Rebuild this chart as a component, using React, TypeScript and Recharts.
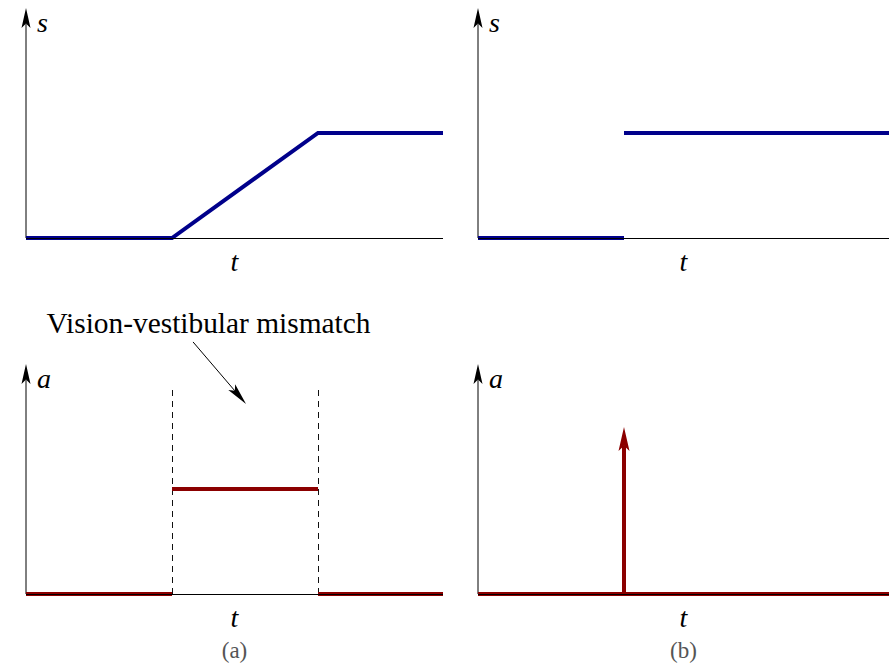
import React from 'react';
import { LineChart, Line, XAxis, YAxis, ReferenceLine } from 'recharts';

// ---- data ----
const tMaxLeft = 2.856;
const tMaxRight = 2.815;
const yMax = 2.19;

const rampData = [
  { t: 0, s: 0 },
  { t: 1, s: 0 },
  { t: 2, s: 1 },
  { t: tMaxLeft, s: 1 },
];
const stepData = [
  { t: 0, before: 0 },
  { t: 1, before: 0, after: 1 },
  { t: tMaxRight, after: 1 },
];
const accelPulseData = [
  { t: 0, a1: 0 },
  { t: 1, a1: 0, a2: 1 },
  { t: 2, a2: 1, a3: 0 },
  { t: tMaxLeft, a3: 0 },
];
const accelImpulseData = [
  { t: 0, a: 0 },
  { t: tMaxRight, a: 0 },
];
const impulseT = 1;
const impulseHeight = 1.59;
const mismatchWindow = [1, 2];
const dashTop = 1.99;
const annotationText = 'Vision-vestibular mismatch';
const annotationFrom = { t: 1.144, a: 2.4 };
const annotationTo = { t: 1.507, a: 1.81 };
const panelLabels = ['(a)', '(b)'];

const BLUE = '#00008B';
const RED = '#8B0000';
const AXIS = '#000';

const makeArrow =
  (color: string, width: number, headLen: number, headHalf: number) =>
  (props: any) => {
    const { x1, y1, x2, y2 } = props;
    const dx = x2 - x1;
    const dy = y2 - y1;
    const len = Math.hypot(dx, dy) || 1;
    const ux = dx / len;
    const uy = dy / len;
    const px = -uy;
    const py = ux;
    const bx = x2 - ux * headLen;
    const by = y2 - uy * headLen;
    const nx = x2 - ux * headLen * 0.78;
    const ny = y2 - uy * headLen * 0.78;
    const pts = `${x2},${y2} ${bx + px * headHalf},${by + py * headHalf} ${nx},${ny} ${bx - px * headHalf},${by - py * headHalf}`;
    return (
      <g>
        <line x1={x1} y1={y1} x2={nx} y2={ny} stroke={color} strokeWidth={width} />
        <polygon points={pts} fill={color} stroke="none" />
      </g>
    );
  };

const axisArrow = makeArrow(AXIS, 1, 20, 4.5);
const impulseArrow = makeArrow(RED, 4, 24, 5.5);
const plainArrow = makeArrow('#000', 1, 22, 4.5);

const annotationArrow = (props: any) => {
  const { x1, y1 } = props;
  return (
    <g>
      {plainArrow(props)}
      <text x={x1 + 15.5} y={y1 - 9} textAnchor="middle" fill="#000" style={{ fontFamily: 'Liberation Serif', fontSize: 29.4 }}>
        {annotationText}
      </text>
    </g>
  );
};

const axisLabel = (panel?: string) => (props: any) => {
  const vb = props.viewBox || {};
  const cx = vb.x + vb.width / 2;
  return (
    <g>
      <text x={cx} y={vb.y + 33} textAnchor="middle" fill="#000" fontStyle="italic" style={{ fontFamily: 'Liberation Serif', fontSize: 28 }}>
        t
      </text>
      {panel ? (
        <text x={cx} y={vb.y + 64} textAnchor="middle" fill="#555" style={{ fontFamily: 'Liberation Serif', fontSize: 23 }}>
          {panel}
        </text>
      ) : null}
    </g>
  );
};

const yLabel = (name: string) => (props: any) => {
  const { x2, y2 } = props;
  return (
    <g>
      {axisArrow(props)}
      <text x={x2 + 11} y={y2 + 24} fill="#000" fontStyle="italic" style={{ fontFamily: 'Liberation Serif', fontSize: 28 }}>
        {name}
      </text>
    </g>
  );
};

const lineCommon = {
  type: 'linear' as const,
  dot: false,
  activeDot: false,
  isAnimationActive: false,
  strokeWidth: 4,
  strokeLinecap: 'butt' as const,
  strokeLinejoin: 'miter' as const,
  connectNulls: false,
};

function Panel(props: {
  left: number;
  top: number;
  width: number;
  height: number;
  marginTop: number;
  marginRight: number;
  tMax: number;
  data: any[];
  keys: string[];
  color: string;
  yName: string;
  panel?: string;
  children?: React.ReactNode;
}) {
  const { left, top, width, height, marginTop, marginRight, tMax, data, keys, color, yName, panel, children } = props;
  const axisH = height - marginTop - 230;
  return (
    <div style={{ position: 'absolute', left, top, width, height }}>
      <LineChart
        width={width}
        height={height}
        data={data}
        margin={{ top: marginTop, right: marginRight, left: 26, bottom: 0 }}
        style={{ overflow: 'visible' }}
      >
        <XAxis
          dataKey="t"
          type="number"
          domain={[0, tMax]}
          tick={false}
          tickLine={false}
          axisLine={{ stroke: AXIS, strokeWidth: 1, shapeRendering: 'crispEdges' }}
          height={axisH}
          label={axisLabel(panel)}
        />
        <YAxis type="number" domain={[0, yMax]} hide width={0} />
        <ReferenceLine
          segment={[
            { x: 0, y: 0 },
            { x: 0, y: yMax },
          ]}
          ifOverflow="visible"
          stroke={AXIS}
          shape={yLabel(yName)}
        />
        {children}
        {keys.map((k) => (
          <Line key={k} dataKey={k} stroke={color} {...lineCommon} />
        ))}
      </LineChart>
    </div>
  );
}

export default function App() {
  return (
    <div
      style={{
        position: 'absolute',
        left: 0,
        top: 0,
        width: 889,
        height: 666,
        overflow: 'hidden',
        background: '#fff',
      }}
    >
      <Panel left={0} top={0} width={450} height={300} marginTop={8} marginRight={7} tMax={tMaxLeft} data={rampData} keys={['s']} color={BLUE} yName="s" />
      <Panel left={452} top={0} width={437} height={300} marginTop={8} marginRight={0} tMax={tMaxRight} data={stepData} keys={['before', 'after']} color={BLUE} yName="s" />
      <Panel
        left={0}
        top={300}
        width={450}
        height={366}
        marginTop={64}
        marginRight={7}
        tMax={tMaxLeft}
        data={accelPulseData}
        keys={['a1', 'a2', 'a3']}
        color={RED}
        yName="a"
        panel={panelLabels[0]}
      >
        {mismatchWindow.map((t) => (
          <ReferenceLine
            key={t}
            segment={[
              { x: t, y: 0 },
              { x: t, y: dashTop },
            ]}
            ifOverflow="visible"
            stroke="#111"
            strokeWidth={1}
            strokeDasharray="6 5"
            shapeRendering="crispEdges"
          />
        ))}
        <ReferenceLine
          segment={[
            { x: annotationFrom.t, y: annotationFrom.a },
            { x: annotationTo.t, y: annotationTo.a },
          ]}
          ifOverflow="visible"
          stroke="#000"
          shape={annotationArrow}
        />
      </Panel>
      <Panel
        left={452}
        top={300}
        width={437}
        height={366}
        marginTop={64}
        marginRight={0}
        tMax={tMaxRight}
        data={accelImpulseData}
        keys={['a']}
        color={RED}
        yName="a"
        panel={panelLabels[1]}
      >
        <ReferenceLine
          segment={[
            { x: impulseT, y: 0 },
            { x: impulseT, y: impulseHeight },
          ]}
          ifOverflow="visible"
          stroke={RED}
          shape={impulseArrow}
        />
      </Panel>
    </div>
  );
}
